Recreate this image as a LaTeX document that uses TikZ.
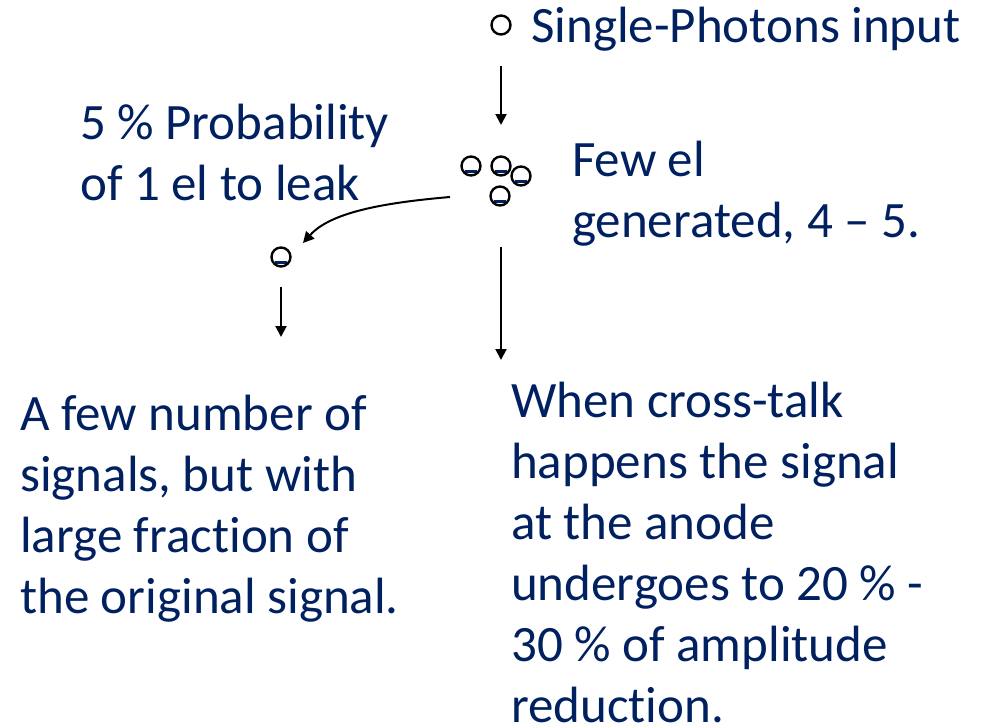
\documentclass[tikz,border=0pt]{standalone}
\usepackage{fontspec}
\setmainfont[Ligatures={NoCommon}]{Carlito}
\usepackage{tikz}
\usetikzlibrary{arrows.meta}
\definecolor{navy}{HTML}{002060}

\tikzset{
  txt/.style={anchor=base west, inner sep=0pt, align=left, text=navy,
    font=\fontsize{51}{61}\selectfont},
  photon/.style={circle, draw, line width=2.4pt, minimum size=19pt, inner sep=0pt},
  electron/.style={photon, path picture={\fill[navy]
    ([xshift=-6pt,yshift=-6.5pt]path picture bounding box.center) rectangle ++(12pt,3pt);}},
  arr/.style={line width=2pt, -{Triangle[width=11pt,length=11pt]}}
}

\begin{document}
\begin{tikzpicture}[x=1pt,y=-1pt]
 \useasboundingbox (0,0) rectangle (988,728);
 % texts (anchored at the baseline of the last line)
 \node[txt] (input) at (531,42) {Single-Photons input};
 \node[txt] (prob) at (80,200) {5 \% Probability\\of 1 el to leak};
 \node[txt] (few) at (572,237) {Few el\\generated, 4 -- 5.};
 \node[txt] (left) at (20,613) {A few number of\\signals, but with\\large fraction of\\the original signal.};
 \node[txt] (right) at (511,722) {When cross-talk\\happens the signal\\at the anode\\undergoes to 20 \% -\\30 \% of amplitude\\reduction.};
 % photon and electrons
 \node[photon] (ph) at (501,25) {};
 \node[electron] (e1) at (471,166) {};
 \node[electron] (e2) at (501,166) {};
 \node[electron] (e3) at (521,176) {};
 \node[electron] (e4) at (500,196) {};
 \node[electron] (leak) at (281,257) {};
 % arrows
 \coordinate (a1) at (501,66);   \coordinate (a2) at (501,125);
 \coordinate (b1) at (450,197);  \coordinate (b2) at (303,243);
 \coordinate (c1) at (281,287);  \coordinate (c2) at (281,337);
 \coordinate (d1) at (501,247);  \coordinate (d2) at (501,360);
 \draw[arr] (a1) -- (a2);
 \draw[arr] (b1) .. controls (380,203) and (330,213) .. (b2);
 \draw[arr] (c1) -- (c2);
 \draw[arr] (d1) -- (d2);
\end{tikzpicture}
\end{document}
